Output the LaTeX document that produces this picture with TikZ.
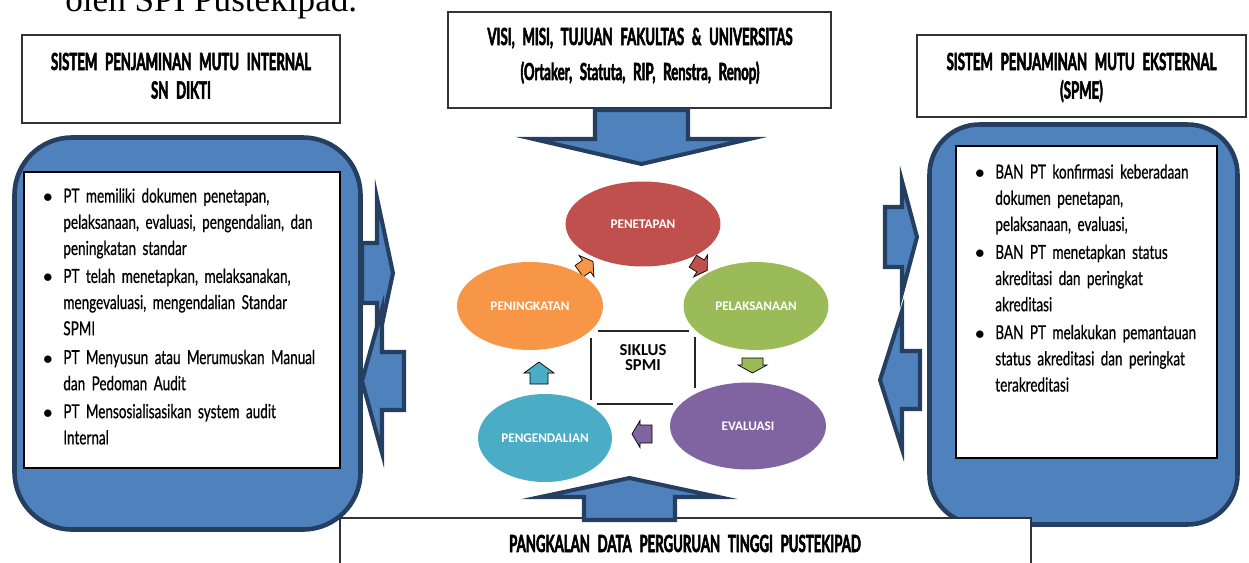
\documentclass[tikz,border=0pt]{standalone}
\usepackage{fontspec}
\setmainfont{Lato}
\newfontfamily\gillfont{Lato}[FakeStretch=0.70, WordSpace=2.6, FakeBold=0.6]
\newfontfamily\gillhead{Lato}[FakeStretch=0.56, WordSpace=2.4, BoldFeatures={FakeBold=2.2}]
\newfontfamily\calfont{Carlito}
\newfontfamily\timesfont{Liberation Serif}
\usetikzlibrary{shapes.geometric}
\definecolor{spmiblue}{HTML}{4F81BD}
\definecolor{spmiedge}{HTML}{243F60}
\definecolor{phasered}{HTML}{C0504D}
\definecolor{phaseorange}{HTML}{F79646}
\definecolor{phasegreen}{HTML}{9BBB59}
\definecolor{phasepurple}{HTML}{8064A2}
\definecolor{phaseteal}{HTML}{4BACC6}
\def\blockarrow[#1](#2)(#3:#4:#5:#6:#7){\draw[#1, shift={(#2)}, rotate=#3] (0,-#7) -- ({#4-#5},-#7) -- ({#4-#5},-#6) -- (#4,0) -- ({#4-#5},#6) -- ({#4-#5},#7) -- (0,#7) -- cycle;}
\def\itemdot{\noindent\llap{$\bullet$\hspace{6pt}}}

\begin{document}
\begin{tikzpicture}[x=0.02cm, y=-0.02cm,
	bluebox/.style={draw=spmiedge, line width=2.6pt, fill=spmiblue},
	whitebox/.style={draw=black, line width=0.8pt, fill=white},
	headbox/.style={draw=black!80, line width=0.8pt, fill=white},
	bluearrow/.style={draw=spmiedge, line width=2.3pt, fill=spmiblue},
	phase/.style={ellipse, inner sep=0pt, text=white, font=\calfont\bfseries\fontsize{7.5}{9}\selectfont},
	headtext/.style={anchor=base, inner sep=0pt, font=\gillhead\bfseries\fontsize{13.4}{16}\selectfont},
	itemtext/.style={anchor=north west, inner sep=0pt, align=left, font=\gillfont\fontsize{11}{14.9}\selectfont}]
		%%%%% START %%%%%
		\useasboundingbox (0,0) rectangle (1249,562);
		
		\node[anchor=base west, inner sep=0pt, font=\timesfont\fontsize{20}{24}\selectfont] (oleh) at (65,11) {oleh SPI Pustekipad.};
		
		\draw[headbox] (22,35) rectangle (340,123);
		\node[headtext] (spmiA) at (181,70) {SISTEM PENJAMINAN MUTU INTERNAL};
		\node[headtext] (spmiB) at (181,98.5) {SN DIKTI};
		
		\draw[headbox] (448,12) rectangle (831,108);
		\node[headtext] (visiA) at (640,45) {VISI, MISI, TUJUAN FAKULTAS \& UNIVERSITAS};
		\node[headtext] (visiB) at (640,80) {(Ortaker, Statuta, RIP, Renstra, Renop)};
		
		\draw[headbox] (917,35) rectangle (1246,117);
		\node[headtext] (spmeA) at (1081.5,70) {SISTEM PENJAMINAN MUTU EKSTERNAL};
		\node[headtext] (spmeB) at (1081.5,98.5) {(SPME)};
		
		\draw[bluebox, rounded corners=1.15cm] (14.5,137.5) rectangle (360.5,529.5);
		\draw[whitebox] (24,172) rectangle (340,468);
		\node[itemtext, text width=5.8cm] (spmiList) at (63,188) {\itemdot PT memiliki dokumen penetapan,\\
			pelaksanaan, evaluasi, pengendalian, dan\\
			peningkatan standar\\[1pt]
			\itemdot PT telah menetapkan, melaksanakan,\\
			mengevaluasi, mengendalian Standar\\
			SPMI\\[1.5pt]
			\itemdot PT Menyusun atau Merumuskan Manual\\
			dan Pedoman Audit\\[1pt]
			\itemdot PT Mensosialisasikan system audit\\
			Internal};
		
		\draw[bluebox, rounded corners=1.0cm] (929.5,124.5) rectangle (1237.5,524.5);
		\draw[whitebox] (956,146) rectangle (1217,458);
		\node[itemtext, text width=4.6cm] (spmeList) at (995,164) {\itemdot BAN PT konfirmasi keberadaan\\
			dokumen penetapan,\\
			pelaksanaan, evaluasi,\\[1pt]
			\itemdot BAN PT menetapkan status\\
			akreditasi dan peringkat\\
			akreditasi\\[1pt]
			\itemdot BAN PT melakukan pemantauan\\
			status akreditasi dan peringkat\\
			terakreditasi};
		
		\blockarrow[bluearrow](362,273)(0:31:16:75:30)
		\blockarrow[bluearrow](404,381)(180:42:20:72:29)
		\blockarrow[bluearrow](885,237)(0:32:15:56:30)
		\blockarrow[bluearrow](920,380)(180:40:22:69:29)
		\blockarrow[bluearrow](641.5,110)(-90:54:25:108:46.5)
		
		\draw[headbox] (340,518) rectangle (1031,580);
		\node[headtext] (pddikti) at (685,552) {PANGKALAN DATA PERGURUAN TINGGI PUSTEKIPAD};
		\blockarrow[bluearrow](629.5,520)(90:42:19:89:45.5)
		
		\blockarrow[fill=phaseorange](579.1,271.2)(35:17:8:13:7)
		\blockarrow[fill=phasered](692.9,261.2)(-32:17:8:13:7)
		\blockarrow[fill=phasegreen](752.5,358)(-90:15:8:14.5:10.5)
		\blockarrow[fill=phasepurple](652,434)(180:20:8:13.5:9)
		\blockarrow[fill=phaseteal](539,384)(90:22:11:15:9)
		
		\node[phase, fill=phasered, minimum width=3.1cm, minimum height=1.7cm] (penetapan) at (643,224) {PENETAPAN};
		\node[phase, fill=phasegreen, minimum width=2.9cm, minimum height=1.76cm] (pelaksanaan) at (756,306) {PELAKSANAAN};
		\node[phase, fill=phasepurple, minimum width=3.12cm, minimum height=1.74cm] (evaluasi) at (748,426) {EVALUASI};
		\node[phase, fill=phaseteal, minimum width=2.68cm, minimum height=1.76cm] (pengendalian) at (545,438) {PENGENDALIAN};
		\node[phase, fill=phaseorange, minimum width=2.92cm, minimum height=1.76cm] (peningkatan) at (530,306) {PENINGKATAN};
		
		\draw[line width=0.85pt, black!85] (598,331) -- (689,331);
		\draw[line width=0.85pt, black!85] (591,338) -- (591,400);
		\draw[line width=0.85pt, black!85] (695,337) -- (695,388);
		\draw[line width=0.85pt, black!85] (597,404) -- (673,404);
		\node[align=center, inner sep=0pt, font=\calfont\bfseries\fontsize{9.5}{8.6}\selectfont] (siklus) at (643,357.5) {SIKLUS\\SPMI};
		
		%%%%% END %%%%%
\end{tikzpicture}
\end{document}
